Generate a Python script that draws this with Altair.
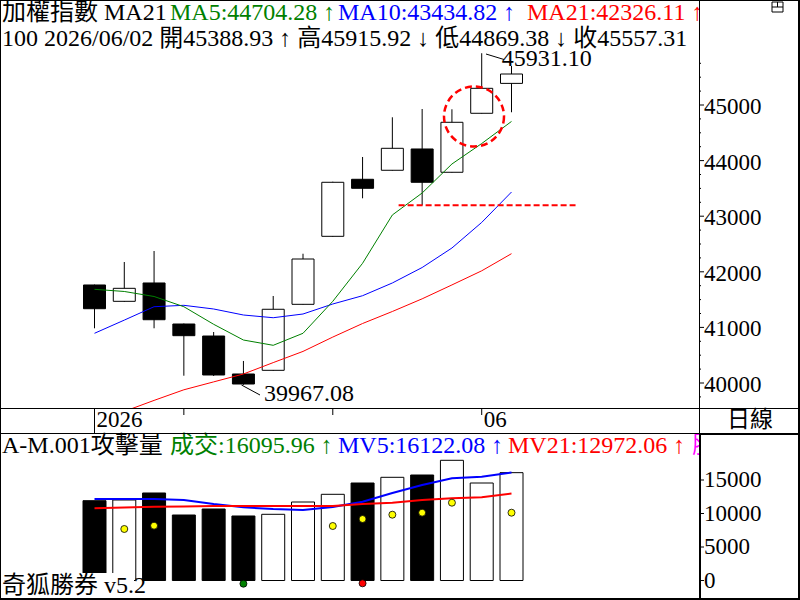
import altair as alt
import pandas as pd

FONT = "Liberation Serif, Noto Sans CJK TC"
GREEN, BLUE, RED, MAGENTA, YELLOW = "#008000", "#0000FF", "#FF0000", "#FF00FF", "#FFFF00"

# ---------------- data ----------------
idx = list(range(15))
opens  = [41763, 41469, 41799, 41061, 40845, 40162, 40228, 41415, 42638, 43664, 43826, 44209, 43790, 44851, 45388.93]
highs  = [41770, 42176, 42374, 41070, 40917, 40396, 41565, 42325, 43620, 44065, 44779, 44928, 44923, 45931.10, 45915.92]
lows   = [40984, 41460, 40984, 40131, 40126, 39967.08, 40220, 41410, 42630, 43322, 43820, 43196, 43785, 44845, 44869.38]
closes = [41336, 41703, 41138, 40851, 40144, 39982, 41326, 42230, 43610, 43502, 44221, 43610, 44689, 45300, 45557.31]
ma5  = [41685, 41646, 41556, 41372, 41056, 40773, 40678, 40894, 41469, 42153, 43022, 43417, 43939, 44307, 44704.28]
ma10 = [40894, 41131, 41372, 41397, 41331, 41223, 41174, 41241, 41421, 41570, 41799, 42077, 42428, 42888, 43434.82]
ma21 = [39299, 39489, 39687, 39878, 40020, 40162, 40367, 40568, 40826, 41070, 41286, 41514, 41764, 42018, 42326.11]

volume = [11910, 12015, 13060, 9776, 10672, 9627, 9881, 11716, 12866, 14552, 15403, 15746, 17940, 14552, 16095.96]
mv5  = [12164, 12164, 12164, 12015, 11418, 10925, 10672, 10522, 10970, 11761, 13060, 14254, 15254, 15493, 16122.08]
mv21 = [10776, 10896, 11015, 11045, 11119, 11119, 11119, 11119, 11119, 11418, 11612, 12015, 12269, 12418, 12972.06]
signal_idx = [1, 2, 8, 9, 10, 11, 12, 14]
signal_val = [7687, 8179, 8134, 9179, 9821, 10119, 11612, 10119]
mark_idx = [5, 9]
mark_val = [-480, -420]
mark_kind = ["buy", "sell"]

support_level = 43196
support_from, support_to = 10.21, 16.15

price_ticks = [40000, 41000, 42000, 43000, 44000, 45000]
price_minor = [v for v in range(39750, 46000, 250) if v % 1000]
vol_ticks = [0, 5000, 10000, 15000]
date_tick_idx = [0, 3, 8, 13]
date_tick_lbl = ["2026", "", "", "06"]

# ---------------- scales ----------------
X = alt.Scale(domain=[0, 14], range=[89.5, 516.5], nice=False, zero=False)
PY = alt.Scale(domain=[40000, 45000], range=[383, 105], nice=False, zero=False)
VY = alt.Scale(domain=[0, 15000], range=[580.5, 480], nice=False, zero=False)


def xq(f):
    return alt.X(f, type="quantitative", scale=X, axis=None)


def py(f):
    return alt.Y(f, type="quantitative", scale=PY, axis=None)


def vy(f):
    return alt.Y(f, type="quantitative", scale=VY, axis=None)


one = pd.DataFrame({"_": [0]})


def text(t, x, y, color="black", size=24, align="left"):
    return alt.Chart(one).mark_text(
        text=t, align=align, baseline="middle", font=FONT, fontSize=size, color=color
    ).encode(x=alt.value(x), y=alt.value(y))


def rule(x, y, x2, y2, color="black", w=1, dash=None):
    kw = dict(color=color, strokeWidth=w)
    if dash:
        kw["strokeDash"] = dash
    return alt.Chart(one).mark_rule(**kw).encode(
        x=alt.value(x), y=alt.value(y), x2=alt.value(x2), y2=alt.value(y2))


def box(x, y, x2, y2, fill="white", stroke=None, w=1):
    kw = dict(fill=fill)
    if stroke:
        kw["stroke"] = stroke
        kw["strokeWidth"] = w
    return alt.Chart(one).mark_rect(**kw).encode(
        x=alt.value(x), y=alt.value(y), x2=alt.value(x2), y2=alt.value(y2))


cdf = pd.DataFrame({"i": idx, "open": opens, "high": highs, "low": lows, "close": closes})
cdf["up"] = cdf["close"] > cdf["open"]
ma_df = pd.DataFrame({"i": idx, "ma5": ma5, "ma10": ma10, "ma21": ma21})
vdf = pd.DataFrame({"i": idx, "vol": volume, "mv5": mv5, "mv21": mv21, "up": cdf["up"]})
sig_df = pd.DataFrame({"i": signal_idx, "v": signal_val})
mk_df = pd.DataFrame({"i": mark_idx, "v": mark_val, "k": mark_kind})
sup_df = pd.DataFrame({"a": [support_from], "b": [support_to], "y": [support_level]})
hi_i = highs.index(max(highs))
lo_i = lows.index(min(lows))
hi_df = pd.DataFrame({"i": [hi_i], "v": [highs[hi_i]], "t": [f"{highs[hi_i]:.2f}"]})
lo_df = pd.DataFrame({"i": [lo_i], "v": [lows[lo_i]], "t": [f"{lows[lo_i]:.2f}"]})
pt_df = pd.DataFrame({"v": price_ticks})
pm_df = pd.DataFrame({"v": price_minor})
vt_df = pd.DataFrame({"v": vol_ticks})
dt_df = pd.DataFrame({"i": date_tick_idx, "lbl": date_tick_lbl})

fill_cond = alt.condition("datum.up", alt.value("white"), alt.value("black"))

layers = []
# ---- price panel ----
layers.append(alt.Chart(cdf).mark_rule(color="black", strokeWidth=1).encode(
    x=xq("i"), y=py("low"), y2="high"))
layers.append(alt.Chart(cdf).mark_bar(size=22, stroke="black", strokeWidth=1).encode(
    x=xq("i"), y=py("open"), y2="close", fill=fill_cond))
layers.append(alt.Chart(ma_df).mark_line(color=RED, strokeWidth=1).encode(x=xq("i"), y=py("ma21")))
layers.append(alt.Chart(ma_df).mark_line(color=BLUE, strokeWidth=1).encode(x=xq("i"), y=py("ma10")))
layers.append(alt.Chart(ma_df).mark_line(color=GREEN, strokeWidth=1).encode(x=xq("i"), y=py("ma5")))
layers.append(alt.Chart(sup_df).mark_rule(color=RED, strokeWidth=2, strokeDash=[6, 3]).encode(
    x=xq("a"), x2="b", y=py("y")))
layers.append(alt.Chart(one).mark_point(shape="circle", size=3600, filled=False, stroke=RED,
                                        strokeWidth=2.5, strokeDash=[7, 4], opacity=1).encode(
    x=alt.value(474), y=alt.value(116.5)))

# ---- volume panel ----
layers.append(alt.Chart(vdf).mark_bar(size=23, stroke="black", strokeWidth=1).encode(
    x=xq("i"), y=vy("vol"), fill=fill_cond))
layers.append(alt.Chart(vdf).mark_line(color=BLUE, strokeWidth=2).encode(x=xq("i"), y=vy("mv5")))
layers.append(alt.Chart(vdf).mark_line(color=RED, strokeWidth=2).encode(x=xq("i"), y=vy("mv21")))
layers.append(alt.Chart(sig_df).mark_circle(size=49, color=YELLOW, opacity=1, stroke="black",
                                            strokeWidth=0.8).encode(x=xq("i"), y=vy("v")))
layers.append(alt.Chart(mk_df).mark_circle(size=49, opacity=1, stroke="black", strokeWidth=0.8).encode(
    x=xq("i"), y=vy("v"),
    color=alt.Color("k:N", scale=alt.Scale(domain=["buy", "sell"], range=[GREEN, RED]), legend=None)))

# ---- covers ----
layers.append(box(0, 409, 699, 433))
layers.append(box(0, 573, 134, 597))
layers.append(box(503, 48, 624, 66))

# ---- header texts ----
layers.append(text("加權指數 MA21", 2, 12.5))
layers.append(text("MA5:44704.28 ↑", 170, 12.5, GREEN))
layers.append(text("MA10:43434.82 ↑", 338, 12.5, BLUE))
layers.append(text("MA21:42326.11 ↑", 527, 12.5, RED))
layers.append(text("100 2026/06/02 開45388.93 ↑ 高45915.92 ↓ 低44869.38 ↓ 收45557.31", 2, 38.5))
layers.append(text("A-M.001攻擊量", 2, 446))
layers.append(text("成交:16095.96 ↑", 170, 446, GREEN))
layers.append(text("MV5:16122.08 ↑", 338, 446, BLUE))
layers.append(text("MV21:12972.06 ↑", 508, 446, RED))
layers.append(text("股", 692, 446, MAGENTA))
layers.append(text("奇狐勝券 v5.2", 2, 586))

# right panel cover
layers.append(box(700, 0, 800, 600))

# ---- high / low annotations ----
layers.append(rule(486, 54, 504, 59.5))
layers.append(rule(241.5, 385, 260, 395))
layers.append(alt.Chart(hi_df).mark_text(align="left", baseline="middle", font=FONT, fontSize=24,
                                         dx=20, dy=6).encode(x=xq("i"), y=py("v"), text="t:N"))
layers.append(alt.Chart(lo_df).mark_text(align="left", baseline="middle", font=FONT, fontSize=24,
                                         dx=20.5, dy=9).encode(x=xq("i"), y=py("v"), text="t:N"))

# ---- date row ----
layers.append(alt.Chart(dt_df).mark_rule(color="black").encode(
    x=xq("i"), y=alt.value(409), y2=alt.value(415)))
layers.append(alt.Chart(dt_df).transform_filter("datum.lbl == '2026'").mark_rule(color="black").encode(
    x=xq("i"), y=alt.value(409), y2=alt.value(433)))
layers.append(alt.Chart(dt_df).mark_text(align="left", baseline="middle", font=FONT, fontSize=23,
                                         dx=2).encode(x=xq("i"), y=alt.value(420), text="lbl:N"))
layers.append(text("日線", 750, 420, size=23, align="center"))

# ---- right axes ----
layers.append(alt.Chart(pt_df).mark_rule(color="black").encode(
    x=alt.value(699), x2=alt.value(704), y=py("v")))
layers.append(alt.Chart(pm_df).mark_rule(color="black").encode(
    x=alt.value(699), x2=alt.value(701), y=py("v")))
layers.append(alt.Chart(pt_df).mark_text(align="left", baseline="middle", font=FONT, fontSize=23,
                                         dy=2).encode(x=alt.value(704), y=py("v"),
                                                      text=alt.Text("v:Q", format="d")))
layers.append(alt.Chart(vt_df).mark_rule(color="black").encode(
    x=alt.value(700), x2=alt.value(704), y=vy("v")))
layers.append(alt.Chart(vt_df).mark_text(align="left", baseline="middle", font=FONT, fontSize=23,
                                         dy=0).encode(x=alt.value(704), y=vy("v"),
                                                      text=alt.Text("v:Q", format="d")))

# ---- frame lines ----
layers.append(rule(0.5, 0, 0.5, 600))
layers.append(rule(0, 0.5, 800, 0.5))
layers.append(rule(799, 0, 799, 600, w=2))
layers.append(rule(0, 599, 800, 599, w=2))
layers.append(rule(699.5, 0, 699.5, 433))
layers.append(rule(700, 433, 700, 600, w=2))
layers.append(rule(0, 408.5, 800, 408.5))
layers.append(rule(0, 433.5, 699, 433.5))
layers.append(rule(699, 434, 800, 434, w=2))
# window icon
layers.append(box(772, 2, 783, 12, fill="white", stroke="black"))
layers.append(rule(772, 7, 783, 7))
layers.append(rule(777.5, 2, 777.5, 7))

chart = alt.layer(*layers).resolve_scale(y="independent").properties(
    width=800, height=600, padding=0, background="white",
    autosize=alt.AutoSizeParams(type="none"),
).configure_view(stroke=None)

chart.save("out.html", embed_options={"renderer": "svg", "actions": False})
